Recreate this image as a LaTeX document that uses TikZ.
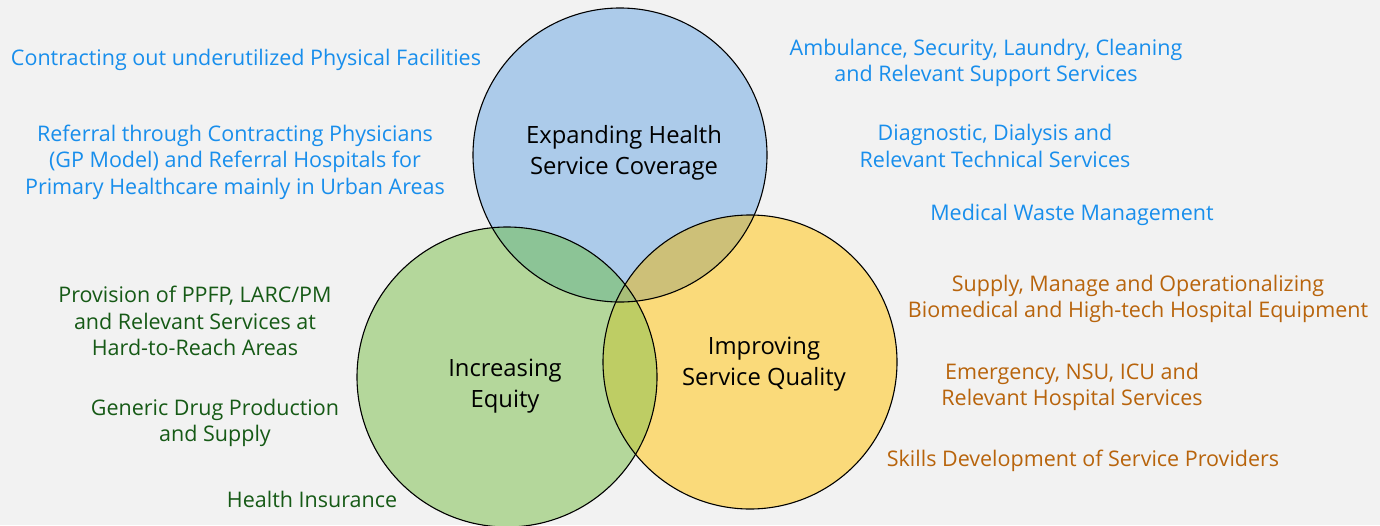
\documentclass[tikz,border=0pt]{standalone}
\usepackage{fontspec}
\setmainfont{Open Sans}
\usepackage{xcolor}
\usepackage{tikz}
\usetikzlibrary{positioning}
\definecolor{paper}{RGB}{242, 242, 242}
\definecolor{coverblue}{RGB}{172, 203, 234}
\definecolor{equitygreen}{RGB}{180, 215, 155}
\definecolor{qualityyellow}{RGB}{250, 218, 122}
\definecolor{bluegreen}{RGB}{140, 196, 150}
\definecolor{blueyellow}{RGB}{205, 192, 120}
\definecolor{greenyellow}{RGB}{190, 205, 100}
\definecolor{allthree}{RGB}{168, 190, 120}
\definecolor{itemblue}{RGB}{24, 142, 236}
\definecolor{itembrown}{RGB}{184, 100, 12}
\definecolor{itemgreen}{RGB}{22, 90, 22}

\begin{document}
\begin{tikzpicture}[
  x=1pt, y=-1pt,
  item/.style={align=center, inner sep=0pt, font=\fontsize{21.5}{26.5}\selectfont},
  blueitem/.style={item, text=itemblue},
  brownitem/.style={item, text=itembrown},
  greenitem/.style={item, text=itemgreen},
  title/.style={align=center, inner sep=0pt, text=black, font=\fontsize{23.8}{31}\selectfont},
  rim/.style={draw=black, line width=1.1pt}
]
  % page
  \fill[paper] (0,0) rectangle (1380,525);
  \useasboundingbox (0,0) rectangle (1380,525);

  % centres of the three circles
  \coordinate (cover) at (620,155);
  \coordinate (equity) at (507,377);
  \coordinate (quality) at (750,362);
  \def\rcover{147pt}
  \def\requity{150pt}
  \def\rquality{147pt}

  % plain fills
  \fill[coverblue] (cover) circle[radius=\rcover];
  \fill[equitygreen] (equity) circle[radius=\requity];
  \fill[qualityyellow] (quality) circle[radius=\rquality];

  % overlaps
  \begin{scope}
    \clip (cover) circle[radius=\rcover];
    \fill[bluegreen] (equity) circle[radius=\requity];
    \fill[blueyellow] (quality) circle[radius=\rquality];
  \end{scope}
  \begin{scope}
    \clip (equity) circle[radius=\requity];
    \fill[greenyellow] (quality) circle[radius=\rquality];
    \clip (quality) circle[radius=\rquality];
    \fill[allthree] (cover) circle[radius=\rcover];
  \end{scope}

  % outlines
  \draw[rim] (cover) circle[radius=\rcover];
  \draw[rim] (equity) circle[radius=\requity];
  \draw[rim] (quality) circle[radius=\rquality];

  % circle titles
  \node[title] (coverlbl) at (624,153) {Expanding Health\\Service Coverage};
  \node[title] (equitylbl) at (505,386) {Increasing\\Equity};
  \node[title] (qualitylbl) at (764,364) {Improving\\Service Quality};

  % coverage items
  \node[blueitem] (facilities) at (246,60) {Contracting out underutilized Physical Facilities};
  \node[blueitem] (referral) at (235,162) {Referral through Contracting Physicians\\(GP Model) and Referral Hospitals for\\Primary Healthcare mainly in Urban Areas};
  \node[blueitem] (support) at (986,63) {Ambulance, Security, Laundry, Cleaning\\and Relevant Support Services};
  \node[blueitem] (diagnostic) at (995,146) {Diagnostic, Dialysis and\\Relevant Technical Services};
  \node[blueitem] (waste) at (1072,215) {Medical Waste Management};

  % quality items
  \node[brownitem] (equipment) at (1138,299) {Supply, Manage and Operationalizing\\Biomedical and High-tech Hospital Equipment};
  \node[brownitem] (emergency) at (1072,387) {Emergency, NSU, ICU and\\Relevant Hospital Services};
  \node[brownitem] (skills) at (1083,461) {Skills Development of Service Providers};

  % equity items
  \node[greenitem] (ppfp) at (195,321) {Provision of PPFP, LARC/PM\\and Relevant Services at\\Hard-to-Reach Areas};
  \node[greenitem] (drugs) at (215,423) {Generic Drug Production\\and Supply};
  \node[greenitem] (insurance) at (312,499) {Health Insurance};
\end{tikzpicture}
\end{document}
